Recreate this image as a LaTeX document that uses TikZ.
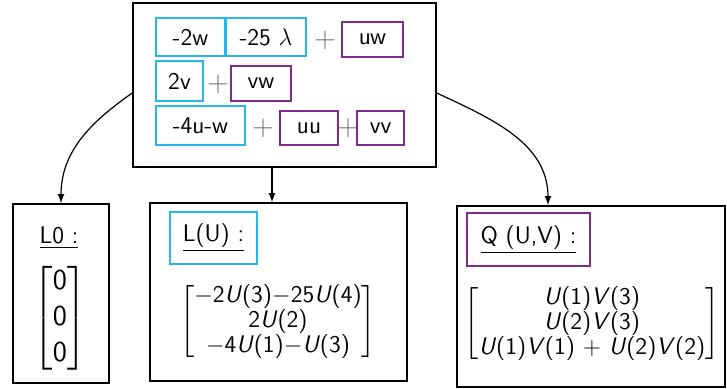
\documentclass[tikz,border=0pt]{standalone}
\usepackage{amsmath}
\usepackage{tikz}
\definecolor{termcyan}{RGB}{38,182,234}
\definecolor{termpurple}{RGB}{130,42,140}
\newcommand{\comp}[2]{\textit{#1}(#2)}
\tikzset{
  frame/.style={draw=black,line width=.75pt,inner sep=0pt},
  linbox/.style={draw=termcyan,line width=1pt,inner sep=0pt},
  quadbox/.style={draw=termpurple,line width=1pt,inner sep=0pt},
  plus/.style={text=black!55,inner sep=0pt,font=\Large},
  arr/.style={-latex,line width=.6pt},
}
\begin{document}
\begin{tikzpicture}[x=.5pt,y=-.5pt,every node/.style={font=\sffamily\large}]
    \useasboundingbox (0,0) rectangle (727,389);
    % source frame with the terms
    \node[frame,minimum width=151.5pt,minimum height=82pt] (src) at (284.5,85) {};
    \node[linbox,minimum width=34.5pt,minimum height=19pt] (t2w) at (190.5,37) {-2w};
    \node[linbox,minimum width=40pt,minimum height=19pt] (tlam) at (266,37) {-25 $\lambda$};
    \node[plus] (p1) at (325,40) {$+$};
    \node[quadbox,minimum width=30.5pt,minimum height=17.5pt] (tuw) at (372.5,39.5) {uw};
    \node[linbox,minimum width=23.5pt,minimum height=20pt] (t2v) at (179.5,81) {2v};
    \node[plus] (p2) at (218,84) {$+$};
    \node[quadbox,minimum width=30pt,minimum height=17.5pt] (tvw) at (261,83.5) {vw};
    \node[linbox,minimum width=44.5pt,minimum height=19.5pt] (t4u) at (200.5,125.5) {-4u-w};
    \node[plus] (p3) at (263,128) {$+$};
    \node[quadbox,minimum width=29pt,minimum height=17pt] (tuu) at (309,128) {uu};
    \node[plus] (p4) at (348,128) {$+$};
    \node[quadbox,minimum width=23.5pt,minimum height=17pt] (tvv) at (380.5,128) {vv};
    % result frames
    \node[frame,minimum width=48pt,minimum height=89.5pt] (lzero) at (61,293.5) {};
    \node[frame,minimum width=128.5pt,minimum height=89pt] (lin) at (278.5,292) {};
    \node[frame,minimum width=134pt,minimum height=90.5pt] (quad) at (591,296.5) {};
    \node (lzerolab) at (59,238) {\underline{L0 :}};
    \node[linbox,minimum width=43.5pt,minimum height=26pt] (linlab) at (213.5,238) {\underline{L(U) :}};
    \node[quadbox,minimum width=61.5pt,minimum height=26.5pt] (quadlab) at (528.5,239.5) {\underline{Q (U,V) :}};
    \node[font=\sffamily\Large] (lzeromat) at (60,318) {$\begin{bmatrix}\text{0}\\\text{0}\\\text{0}\end{bmatrix}$};
    \node (linmat) at (278,322) {\renewcommand{\arraystretch}{.82}$\begin{bmatrix}
      \text{$-$2\comp{U}{3}$-$25\comp{U}{4}}\\
      \text{2\comp{U}{2}}\\
      \text{$-$4\comp{U}{1}$-$\comp{U}{3}}\end{bmatrix}$};
    \node (quadmat) at (592,324) {\renewcommand{\arraystretch}{.82}$\begin{bmatrix}
      \text{\comp{U}{1}\comp{V}{3}}\\
      \text{\comp{U}{2}\comp{V}{3}}\\
      \text{\comp{U}{1}\comp{V}{1} $+$ \comp{U}{2}\comp{V}{2}}\end{bmatrix}$};
    % connectors
    \draw[arr] ([yshift=-4pt]src.west) to[out=-145,in=90] (lzero.north);
    \draw[arr] ([xshift=-6.25pt]src.south) -- ([xshift=-6.25pt]src.south |- lin.north);
    \draw[arr] ([yshift=-4pt]src.east) to[out=-25,in=90] ([xshift=-21.5pt]quad.north);
\end{tikzpicture}
\end{document}
